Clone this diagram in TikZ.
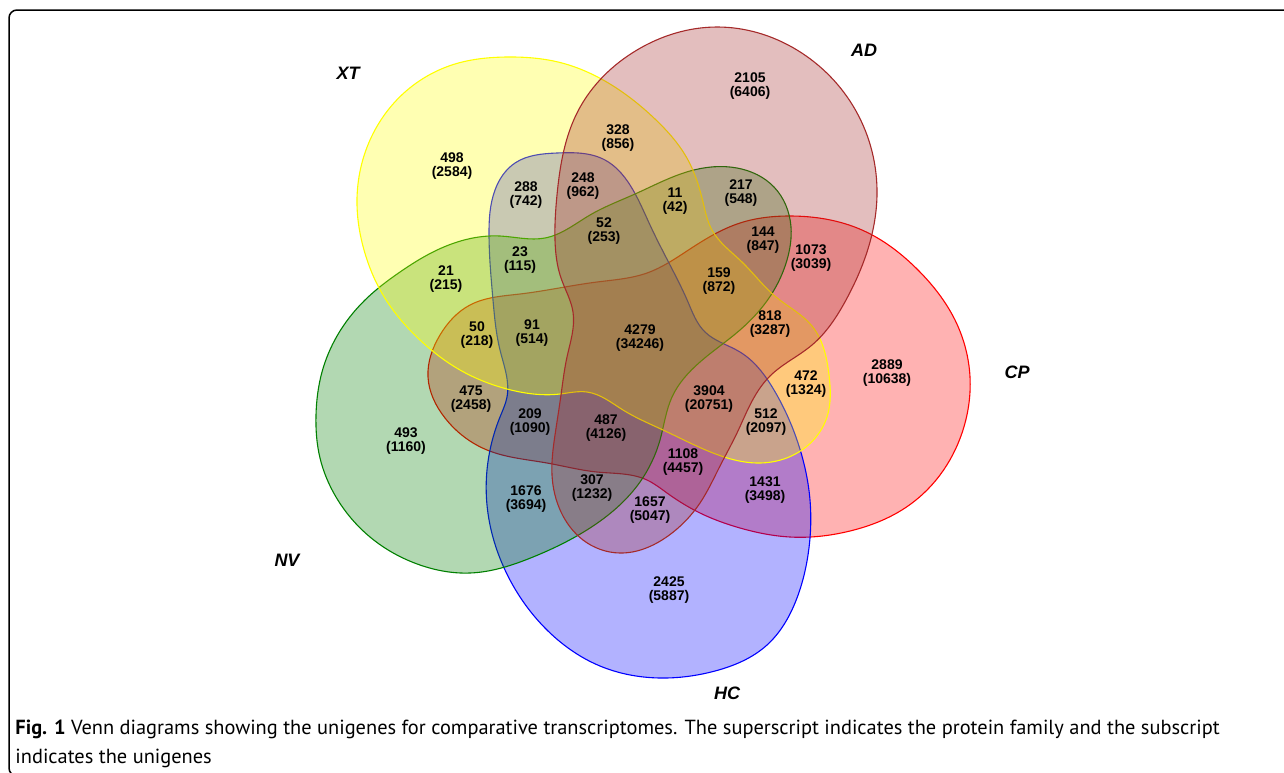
\documentclass[tikz,border=0pt]{standalone}
\usepackage{fontspec}
\setmainfont{Liberation Sans}
\newfontfamily\capfont{PT Sans}
\usetikzlibrary{hobby}
\definecolor{XTc}{RGB}{255,255,0}
\definecolor{ADc}{RGB}{165,42,42}
\definecolor{CPc}{RGB}{255,0,0}
\definecolor{HCc}{RGB}{0,0,255}
\definecolor{NVc}{RGB}{0,128,0}
\begin{document}
\begin{tikzpicture}[x=0.5pt,y=-0.5pt,
  setshape/.style={line width=0.55pt, fill opacity=0.3, draw opacity=1},
  num/.style={font=\fontsize{7}{6.7}\selectfont\bfseries, align=center, inner sep=0pt},
  setlab/.style={font=\fontsize{9}{10}\selectfont\bfseries\itshape, inner sep=0pt},
  capline/.style={font=\capfont\fontsize{10.2}{14.5}\selectfont, anchor=base west, inner sep=0pt}]
\useasboundingbox (0,0) rectangle (1284,772);
\clip (0,0) rectangle (1284,772);
\fill[white] (0,0) rectangle (1284,772);
% frame
\draw[line width=0.75pt, rounded corners=4pt] (1300,10) -- (9,10) -- (9,776) -- (1300,776);
% CP
\draw[setshape, draw=CPc, fill=CPc] plot[closed hobby] coordinates {
 (428,377) (440,335) (470,305) (520,294) (597,282) (647,273) (690,249) (740,223) (790,216)
 (862,230) (918,270) (955,320) (970,377) (962,433) (940,475) (905,508) (850,531) (790,537)
 (740,528) (700,513) (667,493) (647,480) (597,472) (547,463) (487,450) (445,418)};
% HC
\draw[setshape, draw=HCc, fill=HCc] plot[closed hobby] coordinates {
 (557,153) (605,160) (630,185) (650,225) (670,265) (688,302) (705,332) (740,352) (774,390) (798,443)
 (810,500) (808,555) (795,603) (767,645) (715,671) (660,678) (600,666) (545,628) (505,570) (487,505)
 (490,450) (500,417) (507,397) (500,350) (493,300) (489,235) (495,190) (515,163)};
% NV
\draw[setshape, draw=NVc, fill=NVc] plot[closed hobby] coordinates {
 (316,415) (322,372) (337,336) (365,300) (400,272) (433,252) (500,236) (545,238) (590,215) (635,194)
 (690,171) (737,168) (774,187) (791,227) (787,260) (771,295) (740,330) (700,362) (672,397) (660,440)
 (640,482) (590,528) (533,557) (470,573) (420,565) (370,537) (336,497) (320,458)};
% XT
\draw[setshape, draw=XTc, fill=XTc] plot[closed hobby] coordinates {
 (357,205) (370,140) (405,92) (455,64) (507,57) (562,63) (610,84) (655,119) (688,160) (703,202)
 (712,230) (742,262) (776,297) (812,326) (829,375) (827,417) (806,447) (760,463) (713,453) (663,430)
 (623,410) (587,392) (560,394) (507,389) (460,370) (420,340) (383,295) (364,250)};
% AD
\draw[setshape, draw=ADc, fill=ADc] plot[closed hobby] coordinates {
 (717,27) (797,50) (856,111) (877,195) (867,252) (846,300) (812,345) (770,376)
 (750,405) (737,433) (720,466) (700,503) (668,536) (620,553) (583,540) (561,512) (552,475)
 (555,435) (561,395) (567,357) (573,312) (561,278) (555,240) (557,195) (578,111) (637,50)};
% set labels
\node[setlab] (lXT) at (348,73) {XT};
\node[setlab] (lAD) at (864,50) {AD};
\node[setlab] (lCP) at (1017,372) {CP};
\node[setlab] (lNV) at (287,560) {NV};
\node[setlab] (lHC) at (727,693) {HC};
% counts
\node[num] (r1) at (452,166) {498\\(2584)};
\node[num] (r2) at (750,86) {2105\\(6406)};
\node[num] (r3) at (618,138) {328\\(856)};
\node[num] (r4) at (526,195) {288\\(742)};
\node[num] (r5) at (583,186) {248\\(962)};
\node[num] (r6) at (675,201) {11\\(42)};
\node[num] (r7) at (741,193) {217\\(548)};
\node[num] (r8) at (604,231) {52\\(253)};
\node[num] (r9) at (763,240) {144\\(847)};
\node[num] (r10) at (811,258) {1073\\(3039)};
\node[num] (r11) at (520,260) {23\\(115)};
\node[num] (r12) at (446,279) {21\\(215)};
\node[num] (r13) at (719,281) {159\\(872)};
\node[num] (r14) at (477,335) {50\\(218)};
\node[num] (r15) at (532,333) {91\\(514)};
\node[num] (r16) at (640,338) {4279\\(34246)};
\node[num] (r17) at (770,324) {818\\(3287)};
\node[num] (r18) at (806,384) {472\\(1324)};
\node[num] (r19) at (887,373) {2889\\(10638)};
\node[num] (r20) at (471,399) {475\\(2458)};
\node[num] (r21) at (709,399) {3904\\(20751)};
\node[num] (r22) at (406,441) {493\\(1160)};
\node[num] (r23) at (530,422) {209\\(1090)};
\node[num] (r24) at (606,428) {487\\(4126)};
\node[num] (r25) at (766,422) {512\\(2097)};
\node[num] (r26) at (683,462) {1108\\(4457)};
\node[num] (r27) at (592,488) {307\\(1232)};
\node[num] (r28) at (526,499) {1676\\(3694)};
\node[num] (r29) at (650,510) {1657\\(5047)};
\node[num] (r30) at (765,490) {1431\\(3498)};
\node[num] (r31) at (669,590) {2425\\(5887)};
% caption
\node[capline] (cap1) at (15,734) {\textbf{Fig. 1} Venn diagrams showing the unigenes for comparative transcriptomes. The superscript indicates the protein family and the subscript};
\node[capline] (cap2) at (15,763) {indicates the unigenes};
\end{tikzpicture}
\end{document}
